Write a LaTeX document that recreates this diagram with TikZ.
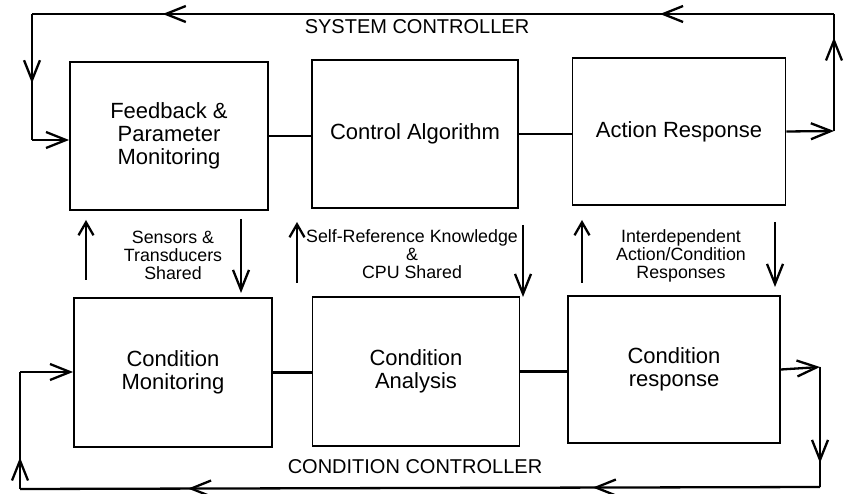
\documentclass[tikz,border=0pt]{standalone}
\usepackage{fontspec}
\setmainfont{Liberation Sans}
\usetikzlibrary{arrows.meta,decorations.markings}
\tikzset{
  box/.style={draw, line width=1.8pt, inner sep=0pt, align=center, font=\fontsize{22}{23}\selectfont},
  lbl/.style={align=center, inner sep=0pt, font=\fontsize{17.8}{18}\selectfont},
  ctl/.style={inner sep=0pt, font=\fontsize{20}{22}\selectfont},
  ln/.style={line width=2.3pt, line join=miter},
  bigtip/.tip={Straight Barb[length=20pt,width=16pt,line width=2.3pt]},
  shorttip/.tip={Straight Barb[length=13pt,width=15pt,line width=2.3pt]},
  midarr/.style={postaction={decorate,decoration={markings,mark=at position #1 with {\arrow{bigtip}}}}}
}
\begin{document}
\begin{tikzpicture}[x=1pt,y=-1pt]
\useasboundingbox (0,0) rectangle (844,494);
% boxes
\node[box, minimum width=198pt, minimum height=148pt] (B1) at (169,136) {Feedback \&\\Parameter\\Monitoring};
\node[box, minimum width=206pt, minimum height=148pt] (B2) at (415,134) {Control Algorithm};
\node[box, minimum width=213pt, minimum height=147pt] (B3) at (679,131.5) {Action Response};
\node[box, minimum width=198pt, minimum height=149pt] (B4) at (173,372.5) {Condition\\Monitoring};
\node[box, minimum width=207pt, minimum height=149pt] (B5) at (416,371.5) {Condition\\Analysis};
\node[box, minimum width=212pt, minimum height=147pt] (B6) at (674,369.5) {Condition\\response};
% horizontal links
\draw[ln] (B1.east) -- (B1.east -| B2.west);
\draw[ln] (B2.east) -- (B2.east -| B3.west);
\draw[ln] (B4.east) -- (B4.east -| B5.west);
\draw[ln] (B5.east) -- (B5.east -| B6.west);
% labels
\node[ctl] (sc) at (417,27) {SYSTEM CONTROLLER};
\node[ctl] (cc) at (415,467) {CONDITION CONTROLLER};
\node[lbl] (l1) at (173,255) {Sensors \&\\Transducers\\Shared};
\node[lbl] (l2) at (412,254) {Self-Reference Knowledge\\\&\\CPU Shared};
\node[lbl] (l3) at (681,256) {Interdependent\\Action/Condition\\Responses};
% top loop
\coordinate (c1) at (834,131);
\coordinate (c2) at (834,14);
\coordinate (c3) at (32,14);
\coordinate (c4) at (32,140);
\draw[ln,-bigtip] (B3.east) -- (c1);
\draw[ln,midarr=0.8] (c1) -- (c2);
\draw[ln,midarr=0.217,midarr=0.837] (c2) -- (c3);
\draw[ln,midarr=0.55] (c3) -- (c4);
\draw[ln,-bigtip] (c4) -- (c4 -| B1.west);
% bottom loop
\coordinate (d1) at (820,367);
\coordinate (d2) at (820,487);
\coordinate (d3) at (20,489);
\coordinate (d4) at (20,372);
\draw[ln,-bigtip] (B6.east) -- (d1);
\draw[ln,midarr=0.8] (d1) -- (d2);
\draw[ln,midarr=0.284,midarr=0.79] (d2) -- (d3);
\draw[ln,midarr=0.27] (d3) -- (d4);
\draw[ln,-bigtip] (d4) -- (d4 -| B4.west);
% vertical arrows
\coordinate (a1s) at (86,280);  \coordinate (a1e) at (86,220);
\coordinate (a2s) at (241,219); \coordinate (a2e) at (241,293);
\coordinate (a3s) at (297,283); \coordinate (a3e) at (297,222);
\coordinate (a4s) at (523,225); \coordinate (a4e) at (523,297);
\coordinate (a5s) at (582,283); \coordinate (a5e) at (582,220);
\coordinate (a6s) at (775,222); \coordinate (a6e) at (775,287);
\draw[ln,-shorttip] (a1s) -- (a1e);
\draw[ln,-bigtip] (a2s) -- (a2e);
\draw[ln,-shorttip] (a3s) -- (a3e);
\draw[ln,-bigtip] (a4s) -- (a4e);
\draw[ln,-shorttip] (a5s) -- (a5e);
\draw[ln,-bigtip] (a6s) -- (a6e);
\end{tikzpicture}
\end{document}
